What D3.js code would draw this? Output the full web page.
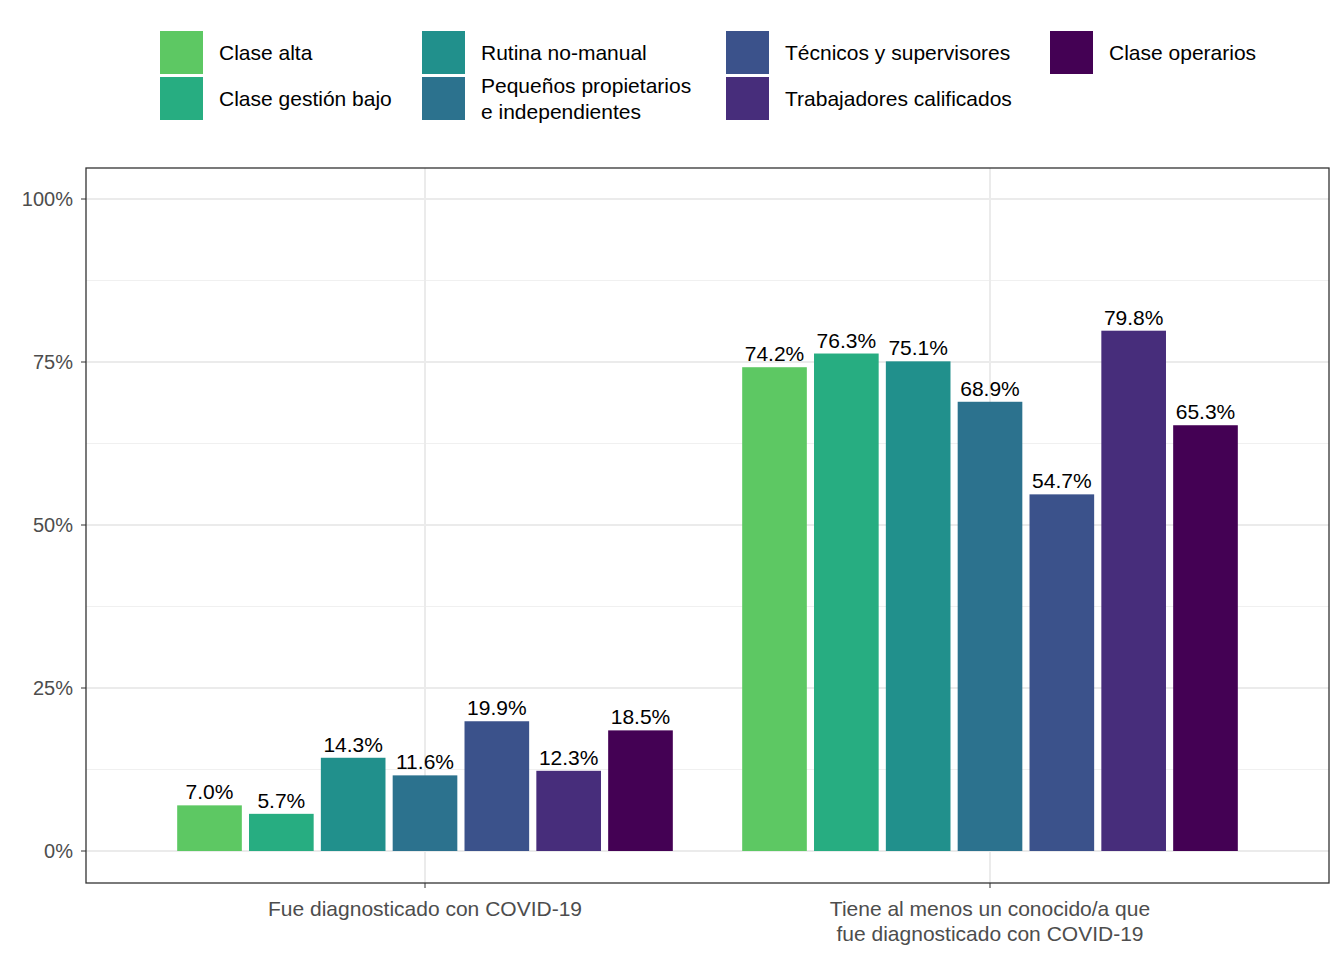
<!DOCTYPE html>
<html><head><meta charset="utf-8">
<script src="https://cdn.jsdelivr.net/npm/d3@7"></script>
<style>body{margin:0;background:#fff}text{font-family:"Liberation Sans",Arial,sans-serif}</style>
</head><body><script>
var groups = ["Fue diagnosticado con COVID-19", "Tiene al menos un conocido/a que\nfue diagnosticado con COVID-19"];
var classes = ["Clase alta","Clase gestión bajo","Rutina no-manual","Pequeños propietarios\ne independientes","Técnicos y supervisores","Trabajadores calificados","Clase operarios"];
var colors = ["#5DC863","#27AD81","#21908C","#2C728E","#3B528B","#472D7B","#440154"];
var diag = [7.0,5.7,14.3,11.6,19.9,12.3,18.5];
var known = [74.2,76.3,75.1,68.9,54.7,79.8,65.3];
var values = [diag, known];
var yTicks = [0,25,50,75,100];

var W=1344,H=960, L=86,R=1329,T=168,B=883;
var svg=d3.select("body").append("svg").attr("width",W).attr("height",H);
var y=d3.scaleLinear().domain([0,100]).range([851,199]);
var x=d3.scaleBand().domain(groups).range([142.5,1272.5]);
var bw=x.bandwidth();
var xi=d3.scaleBand().domain(classes).range([bw/2-255,bw/2+255]).padding(0.1);

var g=svg.append("g");
[12.5,37.5,62.5,87.5].forEach(function(t){g.append("line").attr("x1",L).attr("x2",R).attr("y1",y(t)).attr("y2",y(t)).attr("stroke","#f0f0f0").attr("stroke-width",1);});
yTicks.forEach(function(t){g.append("line").attr("x1",L).attr("x2",R).attr("y1",y(t)).attr("y2",y(t)).attr("stroke","#ebebeb").attr("stroke-width",2);});
groups.forEach(function(gr){var cx=x(gr)+bw/2;g.append("line").attr("x1",cx).attr("x2",cx).attr("y1",T).attr("y2",B).attr("stroke","#ebebeb").attr("stroke-width",2);});

groups.forEach(function(gr,gi){
  var gg=svg.append("g").attr("transform","translate("+x(gr)+",0)");
  classes.forEach(function(c,ci){
    var v=values[gi][ci];
    gg.append("rect").attr("x",xi(c)).attr("width",xi.bandwidth()).attr("y",y(v)).attr("height",y(0)-y(v)).attr("fill",colors[ci]);
    gg.append("text").attr("x",xi(c)+xi.bandwidth()/2).attr("y",y(v)-6).attr("text-anchor","middle").attr("font-size",21).attr("fill","#000").text(v.toFixed(1)+"%");
  });
});

svg.append("rect").attr("x",L).attr("y",T).attr("width",R-L).attr("height",B-T).attr("fill","none").attr("stroke","#333").attr("stroke-width",1.3);

yTicks.forEach(function(t){
  svg.append("line").attr("x1",L-5).attr("x2",L).attr("y1",y(t)).attr("y2",y(t)).attr("stroke","#333");
  svg.append("text").attr("x",L-13).attr("y",y(t)).attr("dy","0.35em").attr("text-anchor","end").attr("font-size",20).attr("fill","#4d4d4d").text(t+"%");
});
groups.forEach(function(gr){
  var cx=x(gr)+bw/2;
  svg.append("line").attr("x1",cx).attr("x2",cx).attr("y1",B).attr("y2",B+5).attr("stroke","#333");
  gr.split("\n").forEach(function(s,i){
    svg.append("text").attr("x",cx).attr("y",916+i*25).attr("text-anchor","middle").attr("font-size",21).attr("fill","#4d4d4d").text(s);
  });
});

var lx=[160,160,422,422,726,726,1050], ly=[31,77,31,77,31,77,31];
classes.forEach(function(c,i){
  svg.append("rect").attr("x",lx[i]).attr("y",ly[i]).attr("width",43).attr("height",43).attr("fill",colors[i]);
  var lines=c.split("\n");
  lines.forEach(function(s,j){
    svg.append("text").attr("x",lx[i]+59).attr("y",ly[i]+22+(j-(lines.length-1)/2)*26).attr("dy","0.35em").attr("font-size",21).attr("fill","#000").text(s);
  });
});
</script></body></html>
